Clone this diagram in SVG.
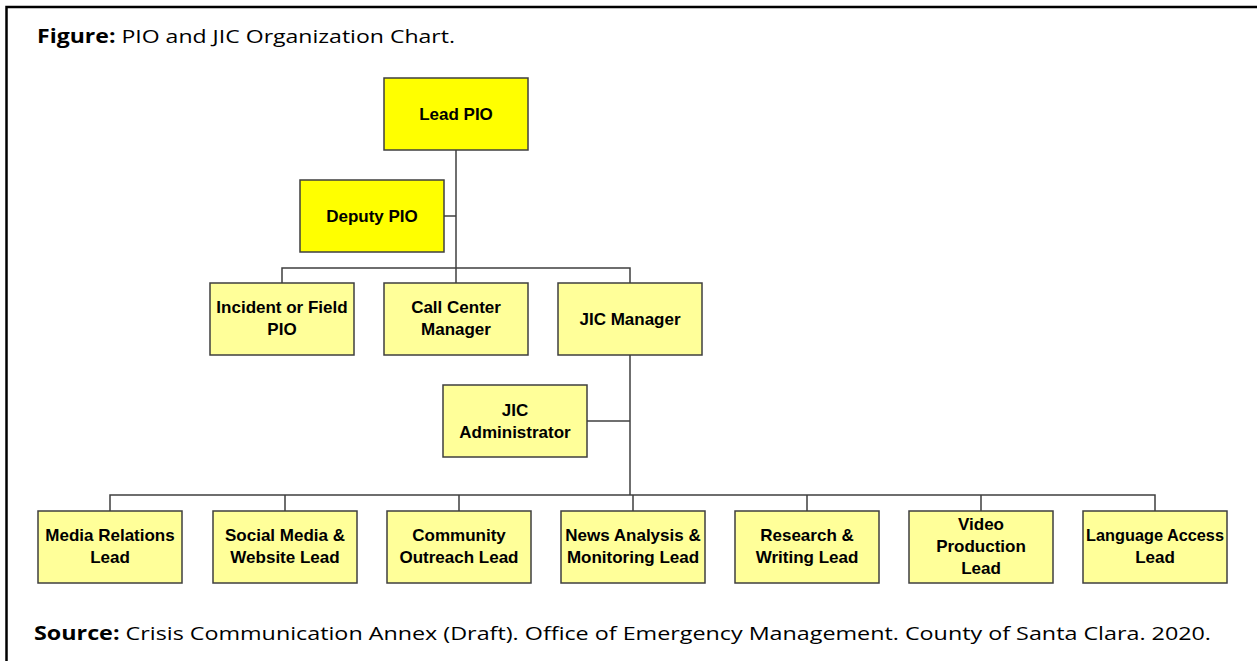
<svg xmlns="http://www.w3.org/2000/svg" width="1257" height="661" viewBox="0 0 1257 661">
<style>
.bg{fill:#ffffff}
.frame{stroke:#000;stroke-width:2.5;fill:none}
.box{stroke:#3f3f3f;stroke-width:1.5}
.top{fill:#ffff00}
.sub{fill:#ffff99}
.lbl{font-family:"Liberation Sans",Arial,sans-serif;font-weight:bold;font-size:17px;fill:#000;text-anchor:middle}
.cap{font-family:"Open Sans","Liberation Sans",sans-serif;font-size:19px;fill:#000}
.b{font-weight:bold}
.con{stroke:#3f3f3f;stroke-width:1.5;fill:none}
</style>
<rect class="bg" x="0" y="0" width="1257" height="661"/>
<path class="frame" d="M6.5,661 V7 H1257"/>
<text class="cap" x="37" y="43" textLength="418" lengthAdjust="spacingAndGlyphs"><tspan class="b">Figure:</tspan> PIO and JIC Organization Chart.</text>
<text class="cap" x="34" y="640" textLength="1177" lengthAdjust="spacingAndGlyphs"><tspan class="b">Source:</tspan> Crisis Communication Annex (Draft). Office of Emergency Management. County of Santa Clara. 2020.</text>
<g id="connectors">
<path class="con" d="M456,150 V268"/>
<path class="con" d="M444,216 H456"/>
<path class="con" d="M282,283 V268 H630 V283"/>
<path class="con" d="M456,268 V283"/>
<path class="con" d="M630,355 V495"/>
<path class="con" d="M587,421 H630"/>
<path class="con" d="M110,511 V495 H1155 V511"/>
<path class="con" d="M285,495 V511 M459,495 V511 M633,495 V511 M807,495 V511 M981,495 V511"/>
</g>
<g id="lead-pio"><rect class="box top" x="384" y="78" width="144" height="72"/><text class="lbl" x="456" y="120">Lead PIO</text></g>
<g id="deputy-pio"><rect class="box top" x="300" y="180" width="144" height="72"/><text class="lbl" x="372" y="222">Deputy PIO</text></g>
<g id="incident-pio"><rect class="box sub" x="210" y="283" width="144" height="72"/><text class="lbl" x="282" y="313">Incident or Field</text><text class="lbl" x="282" y="335">PIO</text></g>
<g id="call-center"><rect class="box sub" x="384" y="283" width="144" height="72"/><text class="lbl" x="456" y="313">Call Center</text><text class="lbl" x="456" y="335">Manager</text></g>
<g id="jic-manager"><rect class="box sub" x="558" y="283" width="144" height="72"/><text class="lbl" x="630" y="325">JIC Manager</text></g>
<g id="jic-admin"><rect class="box sub" x="443" y="385" width="144" height="72"/><text class="lbl" x="515" y="416">JIC</text><text class="lbl" x="515" y="438">Administrator</text></g>
<g id="media-relations"><rect class="box sub" x="38" y="511" width="144" height="72"/><text class="lbl" x="110" y="541">Media Relations</text><text class="lbl" x="110" y="563">Lead</text></g>
<g id="social-media"><rect class="box sub" x="213" y="511" width="144" height="72"/><text class="lbl" x="285" y="541">Social Media &amp;</text><text class="lbl" x="285" y="563">Website Lead</text></g>
<g id="community-outreach"><rect class="box sub" x="387" y="511" width="144" height="72"/><text class="lbl" x="459" y="541">Community</text><text class="lbl" x="459" y="563">Outreach Lead</text></g>
<g id="news-analysis"><rect class="box sub" x="561" y="511" width="144" height="72"/><text class="lbl" x="633" y="541">News Analysis &amp;</text><text class="lbl" x="633" y="563">Monitoring Lead</text></g>
<g id="research-writing"><rect class="box sub" x="735" y="511" width="144" height="72"/><text class="lbl" x="807" y="541">Research &amp;</text><text class="lbl" x="807" y="563">Writing Lead</text></g>
<g id="video-production"><rect class="box sub" x="909" y="511" width="144" height="72"/><text class="lbl" x="981" y="530">Video</text><text class="lbl" x="981" y="552">Production</text><text class="lbl" x="981" y="574">Lead</text></g>
<g id="language-access"><rect class="box sub" x="1083" y="511" width="144" height="72"/><text class="lbl" x="1155" y="541" textLength="138" lengthAdjust="spacingAndGlyphs">Language Access</text><text class="lbl" x="1155" y="563">Lead</text></g>
</svg>
